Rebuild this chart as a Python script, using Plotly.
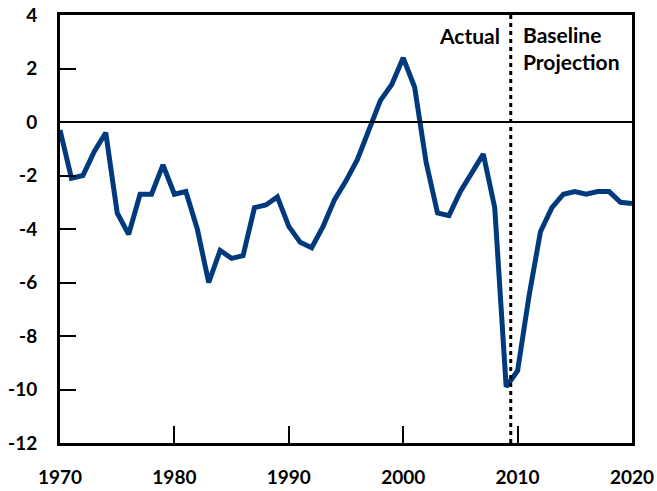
import plotly.graph_objects as go

years = list(range(1970, 2021))
values = [-0.3, -2.1, -2.0, -1.1, -0.4, -3.4, -4.2, -2.7, -2.7, -1.6,
          -2.7, -2.6, -4.0, -6.0, -4.8, -5.1, -5.0, -3.2, -3.1, -2.8,
          -3.9, -4.5, -4.7, -3.9, -2.9, -2.2, -1.4, -0.3, 0.8, 1.4,
          2.4, 1.3, -1.5, -3.4, -3.5, -2.6, -1.9, -1.2, -3.2, -9.9,
          -9.3, -6.5, -4.1, -3.2, -2.7, -2.6, -2.7, -2.6, -2.6, -3.0,
          -3.05]
divider_year = 2009.4
y_ticks = [-12, -10, -8, -6, -4, -2, 0, 2, 4]
y_tick_text = ["-12", "-10", "-8", "-6", "-4", "-2", "0", "2", "4"]
x_ticks = [1970, 1980, 1990, 2000, 2010, 2020]

FONT = "Lato"

fig = go.Figure()
fig.add_trace(go.Scatter(x=years, y=values, mode="lines",
                         line=dict(color="#003a7d", width=5), showlegend=False))

fig.add_shape(type="line", x0=divider_year, x1=divider_year, y0=-12, y1=4,
              xref="x", yref="y", line=dict(color="black", width=3, dash="4px,4px"))
fig.add_shape(type="line", x0=1970, x1=2020, y0=0, y1=0,
              xref="x", yref="y", line=dict(color="black", width=2))

fig.add_annotation(x=2008.6, y=3.25, xref="x", yref="y", text="<b>Actual</b>",
                   showarrow=False, xanchor="right", yanchor="middle",
                   font=dict(family=FONT, size=21, color="black"))
fig.add_annotation(x=2010.3, y=2.78, xref="x", yref="y",
                   text="<b>Baseline<br>Projection</b>", align="left",
                   showarrow=False, xanchor="left", yanchor="middle",
                   font=dict(family=FONT, size=21, color="black"))

fig.update_xaxes(range=[1970, 2020], tickvals=x_ticks, ticks="inside", ticklen=17,
                 tickwidth=2, tickcolor="black", showgrid=False, zeroline=False,
                 showline=True, linecolor="black", linewidth=3, mirror=True,
                 automargin=False, ticklabelstandoff=15,
                 tickfont=dict(family=FONT, size=19, color="black", weight="bold"))
fig.update_yaxes(range=[-12, 4], tickvals=y_ticks, ticktext=y_tick_text,
                 ticks="inside", ticklen=16,
                 tickwidth=2, tickcolor="black", showgrid=False, zeroline=False,
                 showline=True, linecolor="black", linewidth=3, mirror=True,
                 automargin=False, ticklabelstandoff=16,
                 tickfont=dict(family=FONT, size=19, color="black", weight="bold"))

fig.update_layout(width=657, height=491, margin=dict(l=60, r=25, t=15, b=48),
                  plot_bgcolor="white", paper_bgcolor="white")
fig.write_html("out.html", config={"displayModeBar": False},
               post_script="document.body.style.margin='0';document.body.style.padding='0';")
